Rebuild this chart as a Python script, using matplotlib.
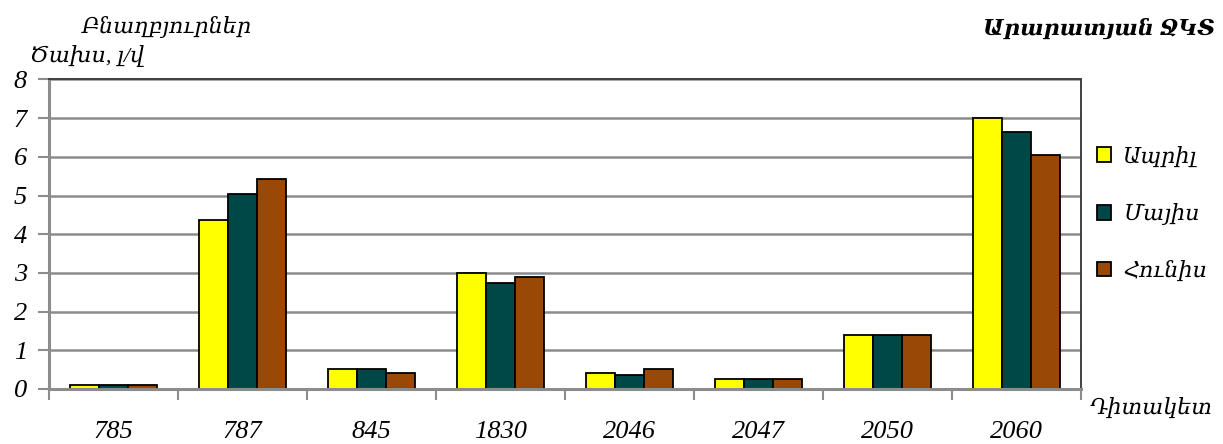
import matplotlib
matplotlib.use("Agg")
import matplotlib.pyplot as plt
import numpy as np

plt.rcParams['font.family'] = ['Liberation Serif', 'DejaVu Serif']
plt.rcParams['font.style'] = 'italic'

stations = ["785", "787", "845", "1830", "2046", "2047", "2050", "2060"]
months = ["Ապրիլ", "Մայիս", "Հունիս"]
april = [0.10, 4.38, 0.52, 2.99, 0.41, 0.27, 1.40, 7.00]
may = [0.10, 5.05, 0.52, 2.74, 0.36, 0.27, 1.40, 6.65]
june = [0.10, 5.42, 0.41, 2.89, 0.52, 0.27, 1.40, 6.04]
colors = ["#FFFF00", "#004848", "#994805"]
y_ticks = [0, 1, 2, 3, 4, 5, 6, 7, 8]

fig = plt.figure(figsize=(12.23, 4.44), dpi=100)
ax = fig.add_axes([0.0401, 0.1239, 0.8438, 0.6971])

x = np.arange(len(stations))
w = 0.225
handles = []
for i, (vals, c, lab) in enumerate(zip([april, may, june], colors, months)):
    b = ax.bar(x + (i - 1) * w, vals, width=w, color=c, edgecolor="black",
               linewidth=1.3, label=lab, zorder=3)
    handles.append(b)

ax.set_xlim(-0.5, len(stations) - 0.5)
ax.set_ylim(0, 8)
ax.set_yticks(y_ticks)
ax.set_yticklabels([str(v) for v in y_ticks], fontsize=19)
ax.yaxis.grid(True, color="#8c8c8c", linewidth=1.8, zorder=0)
ax.tick_params(axis="y", length=8, width=1.5, color="#8c8c8c", pad=8)

# category labels below, with boundary ticks
ax.set_xticks(x)
ax.set_xticklabels(stations, fontsize=19)
ax.tick_params(axis="x", length=0, pad=23)
ax.set_xticks(np.arange(len(stations) + 1) - 0.5, minor=True)
ax.tick_params(axis="x", which="minor", length=8, width=1.5, color="#8c8c8c")

for s in ["left", "bottom"]:
    ax.spines[s].set_color("#8c8c8c")
    ax.spines[s].set_linewidth(2.2)
for s in ["top", "right"]:
    ax.spines[s].set_color("#404040")
    ax.spines[s].set_linewidth(1.4)
ax.spines["bottom"].set_zorder(4)

leg = ax.legend(handles=handles, labels=months, loc="center left",
                bbox_to_anchor=(1.0, 0.565), frameon=False, fontsize=16,
                handlelength=0.65, handleheight=0.65, labelspacing=1.6,
                handletextpad=0.55, borderaxespad=0.3)

fig.text(167 / 1223, 1 - 27 / 444, "Բնաղբյուրներ", fontsize=16,
         ha="center", va="center")
fig.text(30 / 1223, 1 - 56 / 444, "Ծախս, լ/վ", fontsize=16,
         ha="left", va="center")
fig.text(1215 / 1223, 1 - 29 / 444, "Արարատյան ՋԿՏ", fontsize=16,
         ha="right", va="center", fontweight="bold")
fig.text(1090 / 1223, 1 - 408 / 444, "Դիտակետ", fontsize=16,
         ha="left", va="center")

fig.savefig("out.png", dpi=100)
